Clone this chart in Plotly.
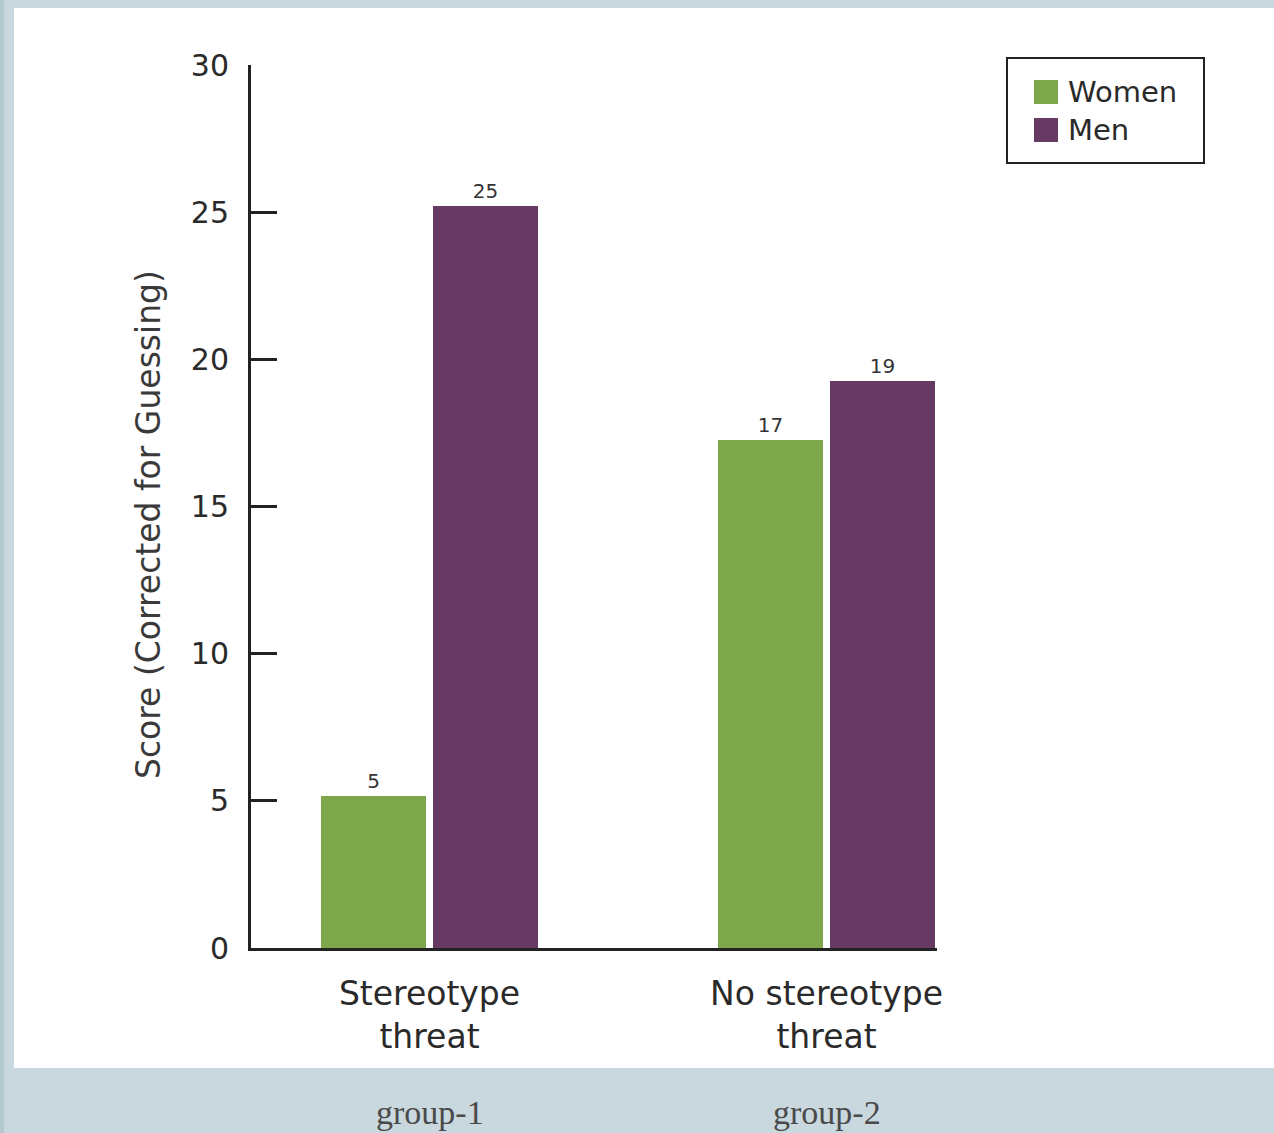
import plotly.graph_objects as go

categories = ["Stereotype<br>threat", "No stereotype<br>threat"]
group_labels = ["group-1", "group-2"]
women = [5.15, 17.25]
men = [25.2, 19.25]
women_text = ["5", "17"]
men_text = ["25", "19"]
y_ticks = [0, 5, 10, 15, 20, 25, 30]

GREEN = "#7ea64a"
PURPLE = "#673a63"
BG = "#c9d8de"

W, H = 1274, 1133
L, R, T, B = 251, 937, 65, 948  # plot area in pixels


def px(x):
    return (x - L) / (R - L)


def py(y):
    return (B - y) / (B - T)


fig = go.Figure()
fig.add_trace(go.Bar(
    x=[0, 1], y=women, name="Women", marker=dict(color=GREEN, line=dict(width=0)),
    width=0.264, offset=-0.273, text=women_text, textposition="outside",
    textfont=dict(family="DejaVu Sans", size=20, color="#333"), cliponaxis=False,
    showlegend=False,
))
fig.add_trace(go.Bar(
    x=[0, 1], y=men, name="Men", marker=dict(color=PURPLE, line=dict(width=0)),
    width=0.264, offset=0.009, text=men_text, textposition="outside",
    textfont=dict(family="DejaVu Sans", size=20, color="#333"), cliponaxis=False,
    showlegend=False,
))

shapes = [
    # white panel
    dict(type="rect", xref="paper", yref="paper", x0=px(14), x1=px(1280), y0=py(1068), y1=py(8),
         fillcolor="white", line=dict(width=0), layer="below"),
    # left darker strip
    dict(type="rect", xref="paper", yref="paper", x0=px(0), x1=px(4), y0=py(1140), y1=py(-5),
         fillcolor="#b4c8d0", line=dict(width=0), layer="below"),
    # legend box
    dict(type="rect", xref="paper", yref="paper", x0=px(1007), x1=px(1204), y0=py(163), y1=py(58),
         fillcolor="white", line=dict(color="#222", width=2)),
]
annotations = []
for i, (name, col) in enumerate([("Women", GREEN), ("Men", PURPLE)]):
    cy = 92 + 38 * i
    shapes.append(dict(type="rect", xref="paper", yref="paper", x0=px(1034), x1=px(1058),
                       y0=py(cy + 12), y1=py(cy - 12), fillcolor=col, line=dict(width=0)))
    annotations.append(dict(x=px(1066), y=py(cy), xref="paper", yref="paper", text=name,
                            showarrow=False, xanchor="left", yanchor="middle",
                            font=dict(family="DejaVu Sans", size=29, color="#2a2a2a")))

for i, g in enumerate(group_labels):
    annotations.append(dict(x=i, y=py(1112), xref="x", yref="paper", text=g, showarrow=False,
                            xanchor="center", yanchor="middle",
                            font=dict(family="Liberation Serif", size=34, color="#4a4a4a")))

annotations.append(dict(x=px(148), y=py(525), xref="paper", yref="paper",
                        text="Score (Corrected for Guessing)", textangle=-90, showarrow=False,
                        xanchor="center", yanchor="middle",
                        font=dict(family="DejaVu Sans", size=33, color="#3a3a3a")))

fig.update_layout(
    width=W, height=H,
    margin=dict(l=L, r=W - R, t=T, b=H - B, pad=0),
    paper_bgcolor=BG, plot_bgcolor="white",
    shapes=shapes, annotations=annotations,
    showlegend=False,
    bargap=0,
)
fig.update_xaxes(
    range=[-0.4496, 1.2783], tickmode="array", tickvals=[0, 1], ticktext=categories,
    showline=True, linecolor="#222", linewidth=3, ticks="", showgrid=False, zeroline=False,
    tickfont=dict(family="DejaVu Sans", size=33, color="#2a2a2a"), ticklabelstandoff=14,
)
fig.update_yaxes(
    range=[0, 30], tickvals=y_ticks, showline=True, linecolor="#222", linewidth=3,
    ticks="inside", ticklen=26, tickwidth=3, tickcolor="#222", showgrid=False, zeroline=False,
    tickfont=dict(family="DejaVu Sans", size=30, color="#2a2a2a"), ticklabelstandoff=13,
)

fig.write_html(
    "out.html",
    config={"displayModeBar": False},
    post_script="document.body.style.margin='0px';document.body.style.overflow='hidden';",
)
